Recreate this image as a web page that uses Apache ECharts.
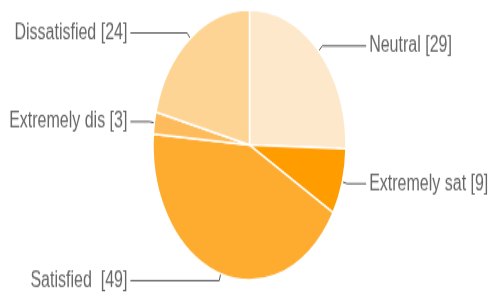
<!DOCTYPE html>
<html>
<head>
<meta charset="utf-8">
<script src="https://cdn.jsdelivr.net/npm/echarts@6/dist/echarts.min.js"></script>
<style>
  html, body { margin: 0; padding: 0; background: #fff; overflow: hidden; }
  #wrap { width: 493px; height: 298px; overflow: hidden; }
  /* the reference is stretched vertically, so stretch the whole chart */
  #chart { width: 493px; height: 213px; transform: scaleY(1.4); transform-origin: 0 0; }
</style>
</head>
<body>
<div id="wrap"><div id="chart"></div></div>
<script>
var categories = ['Neutral', 'Extremely sat', 'Satisfied ', 'Extremely dis', 'Dissatisfied']
var counts = [29, 9, 49, 3, 24]
var colors = ['#fee8cc', '#ff9c00', '#fdac2f', '#fdbb5c', '#fed494']

var chart = echarts.init(document.getElementById('chart'))
chart.setOption({
  animation: false,
  color: colors,
  series: [
    {
      type: 'pie',
      center: [249.5, 103.6],
      radius: 96.5,
      startAngle: 90,
      clockwise: true,
      itemStyle: {
        borderColor: '#fff',
        borderWidth: 1.5
      },
      emphasis: {
        disabled: true
      },
      label: {
        formatter: '{b} [{c}]',
        color: '#666',
        fontFamily: 'Liberation Sans, Arial, sans-serif',
        fontSize: 16,
        alignTo: 'labelLine',
        distanceToLabelLine: 3,
        edgeDistance: 0,
        overflow: 'none'
      },
      labelLine: {
        length: 5,
        length2: 19,
        lineStyle: {
          color: '#555',
          width: 1
        }
      },
      data: categories.map(function (name, i) {
        return { name: name, value: counts[i] }
      })
    }
  ]
})
</script>
</body>
</html>
